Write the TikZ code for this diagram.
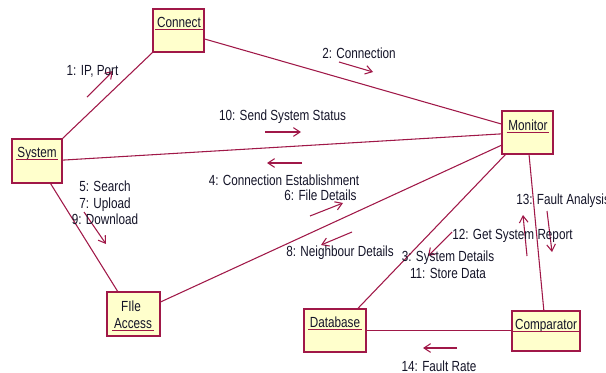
\documentclass[tikz,border=0pt]{standalone}
\usepackage{fontspec}
\setmainfont{Liberation Sans}[FakeStretch=0.8]
\usetikzlibrary{arrows.meta}
\definecolor{linec}{HTML}{A01848}
\definecolor{boxfill}{HTML}{FFFFCC}
\definecolor{txtc}{HTML}{141428}
\begin{document}
\begin{tikzpicture}[x=0.75pt,y=-0.75pt,
  obj/.style={draw=linec, line width=1.1pt, fill=boxfill, inner sep=0pt},
  conn/.style={draw=linec, line width=0.8pt},
  msg/.style={draw=linec, line width=0.8pt, -{Straight Barb[length=5pt,width=6.5pt]}},
  lbl/.style={text=txtc, font=\fontsize{11}{12.4}\selectfont, inner sep=0pt},
  nm/.style={lbl, anchor=base},
  uline/.style={draw=linec, line width=0.8pt}]
\useasboundingbox (0,0) rectangle (606,372);
% objects
\node[obj, minimum width=38.25pt, minimum height=32.25pt] (connect) at (178.5,30.5) {};
\node[obj, minimum width=37.5pt, minimum height=33pt] (system) at (37,161) {};
\node[obj, minimum width=38.25pt, minimum height=32.25pt] (monitor) at (527.5,132.5) {};
\node[obj, minimum width=39.75pt, minimum height=33pt] (fileaccess) at (133.5,314) {};
\node[obj, minimum width=46.5pt, minimum height=32.25pt] (database) at (335,330.5) {};
\node[obj, minimum width=51pt, minimum height=30pt] (comparator) at (546,331) {};
% names
\node[nm] (connectlbl) at (179,27) {Connect};
\node[nm] (systemlbl) at (37,157) {System};
\node[nm] (monitorlbl) at (528,130) {Monitor};
\node[nm] (filelbl) at (131,311) {FIle};
\node[nm] (accesslbl) at (133,328) {Access};
\node[nm] (databaselbl) at (335,327) {Database};
\node[nm] (comparatorlbl) at (546,329) {Comparator};
\foreach \n in {connectlbl,systemlbl,monitorlbl,accesslbl,databaselbl,comparatorlbl}{
  \draw[uline] ([xshift=-1.2pt,yshift=-1.6pt]\n.base west) -- ([xshift=1.2pt,yshift=-1.6pt]\n.base east);
}
% links
\draw[conn] (system.north east) -- (connect.south west);
\draw[conn] (connect.-18) -- (monitor.162);
\draw[conn] (system.2) -- (monitor.183);
\draw[conn] (system.-59) -- (fileaccess.125);
\draw[conn] (fileaccess.24) -- (monitor.206);
\draw[conn] (database.44) -- (monitor.225);
\draw[conn] (comparator.96) -- (monitor.-86);
\draw[conn] (database.east) -- (database.east -| comparator.west);
% message arrow end points
\coordinate (a1s) at (87,97);   \coordinate (a1e) at (113,71);
\coordinate (a2s) at (339,62);  \coordinate (a2e) at (373,72);
\coordinate (a10s) at (265,132); \coordinate (a10e) at (301,132);
\coordinate (a4s) at (302,163); \coordinate (a4e) at (267,163);
\coordinate (a6s) at (310,216); \coordinate (a6e) at (343,203);
\coordinate (a5s) at (84,212);  \coordinate (a5e) at (106,244);
\coordinate (a8s) at (352,232); \coordinate (a8e) at (321,245);
\coordinate (a3s) at (452,232); \coordinate (a3e) at (428,256);
\coordinate (a12s) at (527,256); \coordinate (a12e) at (523,215);
\coordinate (a13s) at (547,211); \coordinate (a13e) at (552,252);
\coordinate (a14s) at (457,348); \coordinate (a14e) at (423,348);
\foreach \a in {a1,a2,a10,a4,a6,a5,a8,a3,a12,a13,a14}{
  \draw[msg] (\a s) -- (\a e);
}
% message labels
\node[lbl] (m1) at (92.5,71) {1: IP, Port};
\node[lbl] (m2) at (359,53) {2: Connection};
\node[lbl] (m10) at (282.5,117) {10: Send System Status};
\node[lbl] (m4) at (284,180) {4: Connection Establishment};
\node[lbl] (m6) at (320.5,195) {6: File Details};
\node[lbl, align=center] (m5) at (105,203) {5: Search\\7: Upload\\9: Download};
\node[lbl] (m8) at (340,253) {8: Neighbour Details};
\node[lbl, align=center] (m3) at (448,265) {3: System Details\\11: Store Data};
\node[lbl] (m12) at (512.5,236) {12: Get System Report};
\node[lbl, anchor=west] (m13) at (516,201) {13: Fault Analysis};
\node[lbl] (m14) at (439,366) {14: Fault Rate};
\end{tikzpicture}
\end{document}
